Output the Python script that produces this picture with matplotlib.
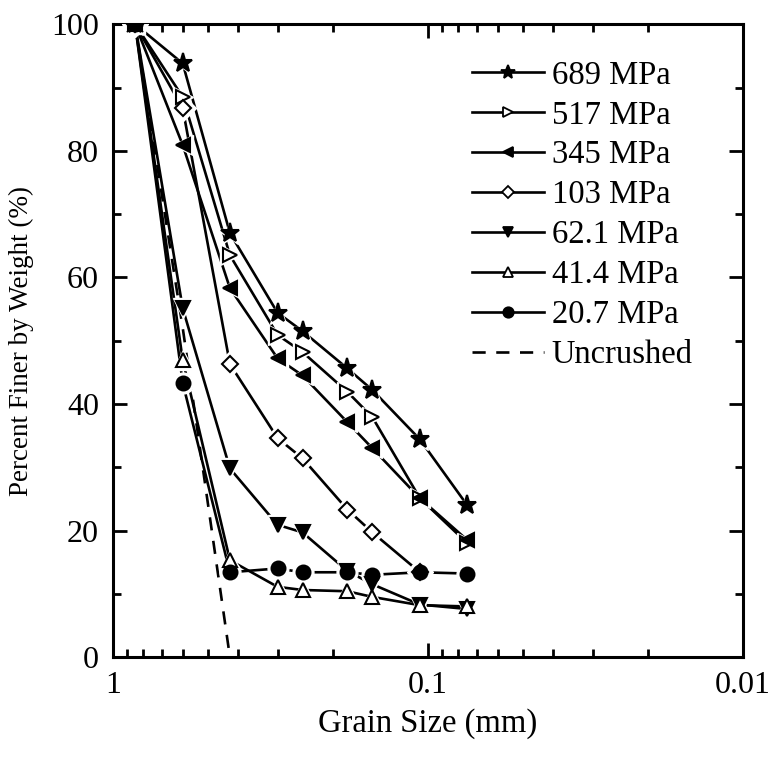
import numpy as np
import matplotlib
matplotlib.use('Agg')
import matplotlib.pyplot as plt
from matplotlib.ticker import LogLocator, MultipleLocator, NullFormatter

# sieve sizes (mm) and percent finer for each crushing stress
sizes = [0.85, 0.6, 0.425, 0.3, 0.25, 0.18, 0.15, 0.106, 0.075]
p689 = [100, 93.8, 67.0, 54.4, 51.5, 45.6, 42.2, 34.4, 24.0]
p517 = [100, 88.5, 63.5, 50.9, 48.2, 41.9, 37.9, 25.1, 18.0]
p345 = [100, 80.9, 58.3, 47.2, 44.5, 37.1, 33.0, 25.1, 18.5]
p103 = [100, 86.7, 46.3, 34.6, 31.4, 23.3, 19.7, 13.4]
p62 = [100, 55.1, 29.8, 20.9, 19.7, 13.6, 11.5, 8.3, 7.6]
p41 = [100, 46.9, 15.3, 11.1, 10.6, 10.4, 9.5, 8.2, 8.0]
p20 = [100, 43.3, 13.4, 14.0, 13.4, 13.4, 13.0, 13.4, 13.2]
unc_sizes = [0.85, 0.6, 0.425]
unc = [100, 52, 0]

labels = ['689 MPa', '517 MPa', '345 MPa', '103 MPa', '62.1 MPa', '41.4 MPa', '20.7 MPa']
series = [p689, p517, p345, p103, p62, p41, p20]
markers = ['*', '>', '<', 'D', 'v', '^', 'o']
fills = ['k', 'w', 'k', 'w', 'k', 'w', 'k']
msizes = [14, 10, 10, 8, 10, 10, 10]

plt.rcParams['font.family'] = ['Liberation Serif', 'DejaVu Serif']

fig = plt.figure(figsize=(7.73, 7.57), dpi=100)
ax = fig.add_axes([0.146, 0.132, 0.815, 0.836])

handles = []
for vals, lab, m, fc, ms in zip(series, labels, markers, fills, msizes):
    x = sizes[:len(vals)]
    ax.plot(x, vals, color='k', lw=1.9, zorder=2)
    # white halo so the lines break around markers
    ax.plot(x, vals, ls='none', marker=m, ms=ms + 5, mfc='w', mec='w', zorder=3)
    ax.plot(x, vals, ls='none', marker=m, ms=ms, mfc=fc, mec='k', mew=1.5, zorder=4)
    h, = ax.plot([], [], color='k', lw=1.9, marker=m, ms=ms * 0.75, mfc=fc, mec='k', mew=1.3)
    handles.append((h, lab))

ax.plot(unc_sizes, unc, color='k', lw=1.9, ls=(0, (5, 4)), zorder=2)
h, = ax.plot([], [], color='k', lw=1.9, ls=(0, (5, 4)))
handles.append((h, 'Uncrushed'))

ax.set_xscale('log')
ax.set_xlim(1, 0.01)
ax.set_ylim(0, 100)
ax.set_xticks([1, 0.1, 0.01])
ax.set_xticklabels(['1', '0.1', '0.01'])
ax.xaxis.set_minor_locator(LogLocator(base=10, subs=np.arange(2, 10) * 0.1 * 10))
ax.xaxis.set_minor_formatter(NullFormatter())
ax.yaxis.set_major_locator(MultipleLocator(20))
ax.yaxis.set_minor_locator(MultipleLocator(10))

for s in ax.spines.values():
    s.set_linewidth(2.2)
ax.tick_params(which='both', direction='in', top=True, right=True, width=2, labelsize=23)
ax.tick_params(which='major', length=10, pad=10)
ax.tick_params(which='minor', length=6)

ax.set_xlabel('Grain Size (mm)', fontsize=23.5, labelpad=6)
ax.set_ylabel('Percent Finer by Weight (%)', fontsize=19.5, labelpad=12)

ax.legend([h for h, _ in handles], [l for _, l in handles], loc='upper left',
          bbox_to_anchor=(0.549, 0.964), borderaxespad=0, frameon=False, fontsize=23.5,
          handlelength=2.2, labelspacing=0.29, handletextpad=0.25)

fig.savefig('out.png', dpi=100)
